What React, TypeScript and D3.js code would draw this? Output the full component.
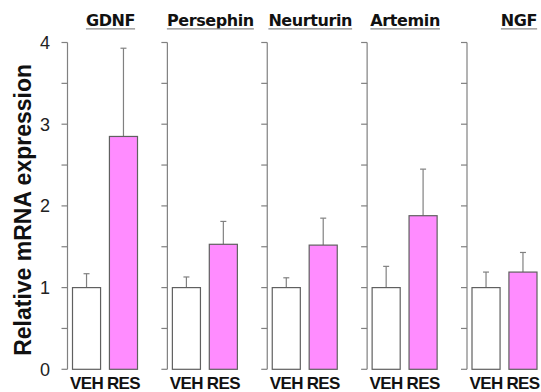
import React from "react";
import * as d3 from "d3";

const factors = ["GDNF", "Persephin", "Neurturin", "Artemin", "NGF"];
const groups = ["VEH", "RES"];
const vehMean = [1, 1, 1, 1, 1];
const vehErr = [0.17, 0.13, 0.12, 0.26, 0.19];
const resMean = [2.85, 1.53, 1.52, 1.88, 1.19];
const resErr = [1.08, 0.28, 0.33, 0.57, 0.24];
const yTicks = [0, 1, 2, 3, 4];
const yMinorTicks = [0, 0.5, 1, 1.5, 2, 2.5, 3, 3.5, 4];

// layout (not data)
const titleShift = [43, 43, 43, 38, 52];
const TITLE_Y = 25.5;

export default function App() {
  const W = 541, H = 392;
  const y = d3.scaleLinear().domain([0, 4]).range([369.3, 42.5]);
  const panel = d3.scalePoint<string>().domain(factors).range([67.5, 467]);
  const inner = d3.scaleBand<string>().domain(groups).range([5, 70]).paddingInner(0.24).paddingOuter(0);
  const axisColor = "#808080";
  const barStroke = "#606060";
  const pink = "#FF8CFF";

  return (
    <svg width={W} height={H} style={{ position: "absolute", left: 0, top: 0, background: "#fff" }}>
      <text
        transform={`translate(31,${(y(0) + y(4)) / 2 + 4}) rotate(-90)`}
        textAnchor="middle"
        fontFamily="Liberation Sans, Arial, sans-serif"
        fontWeight="bold"
        fontSize={23}
        fill="#111"
      >
        Relative mRNA expression
      </text>
      {yTicks.map((t) => (
        <text
          key={t}
          x={50}
          y={y(t) + 6.5}
          textAnchor="end"
          fontFamily="Liberation Sans, Arial, sans-serif"
          fontSize={18}
          fill="#222"
        >
          {t}
        </text>
      ))}
      {factors.map((f, i) => {
        const ax = panel(f)!;
        const means = [vehMean[i], resMean[i]];
        const errs = [vehErr[i], resErr[i]];
        const tx = ax + titleShift[i];
        return (
          <g key={f}>
            <line x1={ax} x2={ax} y1={y(0)} y2={y(4)} stroke={axisColor} strokeWidth={1.2} />
            {yMinorTicks.map((t) => (
              <line key={t} x1={ax - 6} x2={ax} y1={y(t)} y2={y(t)} stroke={axisColor} strokeWidth={1.2} />
            ))}
            <text
              className="ptitle"
              x={tx}
              y={TITLE_Y}
              textAnchor="middle"
              fontFamily="DejaVu Sans, Verdana, sans-serif"
              fontWeight="bold"
              fontSize={16}
              letterSpacing={-0.4}
              fill="#111"
            >
              {f}
            </text>
            {groups.map((g, j) => {
              const bx = ax + inner(g)!;
              const bw = inner.bandwidth();
              const cx = bx + bw / 2;
              const top = y(means[j]);
              const et = y(means[j] + errs[j]);
              return (
                <g key={g}>
                  <line x1={cx} x2={cx} y1={top} y2={et} stroke={axisColor} strokeWidth={1.2} />
                  <line x1={cx - 3} x2={cx + 3} y1={et} y2={et} stroke={axisColor} strokeWidth={1.2} />
                  <rect
                    x={bx}
                    y={top}
                    width={bw}
                    height={y(0) - top}
                    fill={j === 0 ? "#fff" : pink}
                    stroke={barStroke}
                    strokeWidth={1.2}
                  />
                  <text
                    x={cx}
                    y={388.5}
                    textAnchor="middle"
                    fontFamily="Liberation Sans, Arial, sans-serif"
                    fontWeight="bold"
                    fontSize={17}
                    letterSpacing={-0.6}
                    fill="#111"
                  >
                    {g}
                  </text>
                </g>
              );
            })}
          </g>
        );
      })}
      <Underlines />
    </svg>
  );
}

function Underlines() {
  const ref = React.useRef<SVGGElement>(null);
  React.useEffect(() => {
    const g = ref.current;
    if (!g) return;
    const svg = g.ownerSVGElement!;
    const texts = Array.from(svg.querySelectorAll("text.ptitle"));
    d3.select(g).selectAll("*").remove();
    texts.forEach((t) => {
      const b = (t as SVGTextElement).getBBox();
      d3.select(g)
        .append("line")
        .attr("x1", b.x)
        .attr("x2", b.x + b.width)
        .attr("y1", 28.8)
        .attr("y2", 28.8)
        .attr("stroke", "#8a8a8a")
        .attr("stroke-width", 1.3);
    });
  }, []);
  return <g ref={ref} />;
}
